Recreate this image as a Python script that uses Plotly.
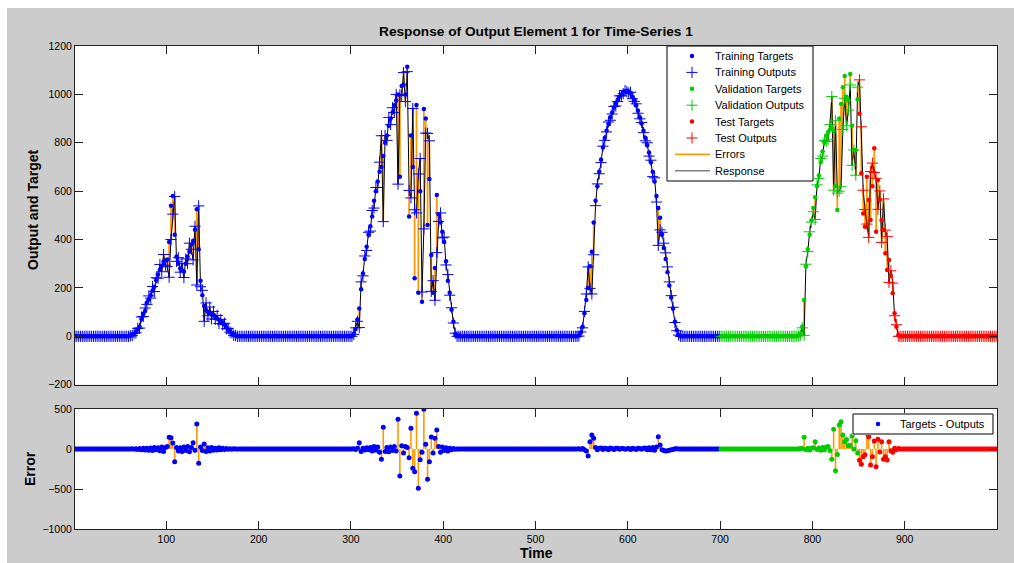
import plotly.graph_objects as go

# ---------------- data ----------------
# samples are shown every 2 time steps: t = 1, 3, 5, ..., 999
TIME_FIRST, TIME_LAST, TIME_STEP = 1, 999, 2
VAL_START = 701     # first validation time step
TEST_START = 851    # first test time step

# each bump: first time step, target values, error values (targets - outputs); zero elsewhere
B1_T0 = 61
B1_TARGET = [2, 5, 10, 18, 28, 40, 72, 92, 105, 140, 152, 170, 188, 205, 232, 255, 275, 292, 308, 312,
             318, 390, 540, 580, 420, 330, 300, 280, 272, 268, 300, 330, 350, 380, 395, 440, 525, 360, 230, 170,
             125, 108, 100, 96, 92, 88, 80, 74, 68, 62, 58, 48, 36, 28, 20, 12, 6, 3, 0]
B1_ERROR = [0, 2, -3, 4, -5, 6, -8, 10, -12, 8, -15, 12, -18, 20, -10, 15, -22, 25, -30, 18,
            30, 146, 140, 75, -158, 20, -25, 15, -30, 25, -20, 30, -35, 20, 79, -15, 313, -179, 25, -20,
            63, -30, 15, -25, 20, -15, 10, -12, 15, -8, 10, -6, 5, -4, 3, -2, 2, 0, 0]

B2_T0 = 301
B2_TARGET = [0, 10, 30, 70, 115, 195, 260, 320, 370, 420, 455, 495, 560, 600, 640, 680, 700, 745, 800, 830,
             870, 900, 925, 955, 975, 1000, 660, 1035, 1040, 1000, 1114, 495, 830, 700, 240, 956, 180, 600, 143, 940,
             900, 460, 650, 336, 180, 282, 584, 505, 470, 432, 390, 310, 230, 180, 110, 60, 10, 0]
B2_ERROR = [0, 2, -5, 8, 79, -30, 10, -12, 15, -10, 20, -25, 30, -15, 25, -40, -129, 271, -30, 20,
            -35, 25, -20, 30, -25, 371, -338, 40, -50, 30, 20, -108, 258, -242, -283, 446, -491, -135, -40, 496,
            60, -379, -158, 150, -50, 133, 238, 30, -40, 25, -20, 15, -25, 10, -8, 5, -3, 0]

B3_T0 = 545
B3_TARGET = [0, 3, 15, 40, 95, 150, 200, 290, 350, 470, 560, 620, 680, 730, 780, 820, 850, 878, 905, 925,
             945, 962, 978, 990, 1000, 1008, 1013, 1015, 1012, 1004, 990, 975, 955, 932, 905, 880, 850, 820, 790, 760,
             720, 680, 640, 580, 530, 490, 420, 365, 320, 265, 210, 160, 115, 60, 25, 5, 0]
B3_ERROR = [0, 2, -3, 5, -8, -25, -87, 92, 175, 133, 20, -10, 8, 12, -6, 10, 5, -8, 12, 6,
            -5, 10, 8, -4, 6, 5, -3, 4, 6, -5, 8, 4, -6, 10, 6, -4, 8, 12, -10, 15,
            -8, 20, -15, 25, 154, 50, -10, -20, -25, -22, -15, -8, -5, 3, 2, 0, 0]

B4_T0 = 783
B4_TARGET = [0, 2, 10, 40, 150, 290, 360, 420, 480, 530, 575, 620, 665, 720, 765, 800, 830, 845, 855, 862,
             850, 620, 522, 900, 960, 1030, 1076, 990, 975, 1084, 870, 770, 770, 980, 920, 674, 508, 453, 660, 563,
             481, 620, 777, 432, 646, 563, 480, 439, 343, 274, 315, 250, 178, 95, 40, 5, 0, 0]
B4_ERROR = [0, 0, 5, 5, 146, -8, 10, -12, 8, 15, 92, -6, 12, -15, 20, -10, 25, 30, -20, -129,
            246, -271, -70, 300, 342, 175, 92, 120, 40, 45, 163, 0, 104, -50, -140, -192, -96, -71, 196, 154,
            -200, -96, 100, -221, 121, -38, 92, -129, -96, -138, 92, -21, -42, 10, -8, 5, 0, 0]

XTICKS = [100, 200, 300, 400, 500, 600, 700, 800, 900]
YTICKS_TOP = [-200, 0, 200, 400, 600, 800, 1000, 1200]
YTICKS_BOT = [-1000, -500, 0, 500]

TITLE = "Response of Output Element 1 for Time-Series 1"
SET_NAMES = ["Training", "Validation", "Test"]
SET_COLORS = ["#0000ff", "#00cc00", "#ff0000"]

# ---------------- assemble series ----------------
time = list(range(TIME_FIRST, TIME_LAST + 1, TIME_STEP))
n = len(time)
targets = [0] * n
errors = [0] * n
for t0, tv, ev in [(B1_T0, B1_TARGET, B1_ERROR), (B2_T0, B2_TARGET, B2_ERROR),
                   (B3_T0, B3_TARGET, B3_ERROR), (B4_T0, B4_TARGET, B4_ERROR)]:
    i0 = (t0 - TIME_FIRST) // TIME_STEP
    targets[i0:i0 + len(tv)] = tv
    errors[i0:i0 + len(ev)] = ev
outputs = [a - e for a, e in zip(targets, errors)]

def subset(lo, hi):
    idx = [i for i, t in enumerate(time) if lo <= t < hi]
    return ([time[i] for i in idx], [targets[i] for i in idx],
            [outputs[i] for i in idx], [errors[i] for i in idx])

bounds = [(TIME_FIRST, VAL_START), (VAL_START, TEST_START), (TEST_START, TIME_LAST + 1)]
sets = [(nm, col, subset(lo, hi)) for nm, col, (lo, hi) in zip(SET_NAMES, SET_COLORS, bounds)]

FONT = "Liberation Sans, Arial, Helvetica, sans-serif"
ORANGE = "#ff9900"
AX = "#222222"
RESP_LEGEND = "#808080"

fig = go.Figure()

# error segments in the top plot (target -> output)
ex, ey = [], []
for t, a, o in zip(time, targets, outputs):
    ex += [t, t, None]
    ey += [a, o, None]
fig.add_trace(go.Scatter(x=ex, y=ey, mode="lines", line=dict(color=ORANGE, width=1.8),
                         xaxis="x", yaxis="y", hoverinfo="skip"))
fig.add_trace(go.Scatter(x=time, y=outputs, mode="lines", line=dict(color="#000000", width=1),
                         xaxis="x", yaxis="y"))

for name, col, (st, sa, so, se) in sets:
    fig.add_trace(go.Scatter(x=st, y=sa, mode="markers", name=f"{name} Targets",
                             marker=dict(symbol="circle", size=4.5, color=col, line=dict(width=0)),
                             xaxis="x", yaxis="y"))
    fig.add_trace(go.Scatter(x=st, y=so, mode="markers", name=f"{name} Outputs",
                             marker=dict(symbol="cross-thin", size=8, color=col, line=dict(width=1, color=col)),
                             xaxis="x", yaxis="y"))

# bottom plot: error stems and dots
sx, sy = [], []
for t, e in zip(time, errors):
    sx += [t, t, None]
    sy += [0, e, None]
fig.add_trace(go.Scatter(x=sx, y=sy, mode="lines", line=dict(color=ORANGE, width=1.6),
                         xaxis="x2", yaxis="y2", hoverinfo="skip"))
for name, col, (st, sa, so, se) in sets:
    fig.add_trace(go.Scatter(x=st, y=se, mode="markers", name="Targets - Outputs",
                             marker=dict(symbol="circle", size=5, color=col, line=dict(width=0)),
                             xaxis="x2", yaxis="y2"))

# ---------------- layout helpers ----------------
L, R, T, B = 75, 17, 46, 34
W, H = 1014, 563
PW, PH = W - L - R, H - T - B

def px_x(px):
    return (px - L) / PW

def px_y(py):
    return (H - B - py) / PH

# ---------------- legends drawn in pixel-unit overlay axes ----------------
LEG1 = dict(l=667, t=46, r=813, b=181)
LEG2 = dict(l=853, t=414, r=993, b=434)
annotations = []

def legend_box(box, xa, ya):
    fig.add_trace(go.Scatter(x=[box["l"], box["r"], box["r"], box["l"], box["l"]],
                             y=[box["t"], box["t"], box["b"], box["b"], box["t"]],
                             mode="lines", fill="toself", fillcolor="#ffffff",
                             line=dict(color="#000000", width=1), xaxis=xa, yaxis=ya, hoverinfo="skip"))

legend_box(LEG1, "x3", "y3")
row_y = [56 + 16.4 * i for i in range(8)]
labels1 = []
r = 0
for name, col in zip(SET_NAMES, SET_COLORS):
    fig.add_trace(go.Scatter(x=[692], y=[row_y[r]], mode="markers", xaxis="x3", yaxis="y3",
                             marker=dict(symbol="circle", size=4.5, color=col, line=dict(width=0))))
    fig.add_trace(go.Scatter(x=[692], y=[row_y[r + 1]], mode="markers", xaxis="x3", yaxis="y3",
                             marker=dict(symbol="cross-thin", size=8, color=col, line=dict(width=1, color=col))))
    labels1 += [f"{name} Targets", f"{name} Outputs"]
    r += 2
fig.add_trace(go.Scatter(x=[675, 710], y=[row_y[6]] * 2, mode="lines", xaxis="x3", yaxis="y3",
                         line=dict(color=ORANGE, width=1.8)))
fig.add_trace(go.Scatter(x=[675, 710], y=[row_y[7]] * 2, mode="lines", xaxis="x3", yaxis="y3",
                         line=dict(color=RESP_LEGEND, width=1.5)))
labels1 += ["Errors", "Response"]
for i, lab in enumerate(labels1):
    annotations.append(dict(text=lab, xref="x3", yref="y3", x=713, y=row_y[i], xanchor="left",
                            yanchor="middle", showarrow=False, font=dict(family=FONT, size=11, color="#000")))

legend_box(LEG2, "x4", "y4")
fig.add_trace(go.Scatter(x=[878], y=[424], mode="markers", xaxis="x4", yaxis="y4",
                         marker=dict(symbol="circle", size=4.5, color=SET_COLORS[0], line=dict(width=0))))
annotations.append(dict(text="Targets - Outputs", xref="x4", yref="y4", x=898, y=424, xanchor="left",
                        yanchor="middle", showarrow=False, font=dict(family=FONT, size=11, color="#000")))

annotations += [
    dict(text=f"<b>{TITLE}</b>", xref="paper", yref="paper", x=0.5, y=px_y(31), xanchor="center",
         yanchor="middle", showarrow=False, font=dict(family=FONT, size=13.7, color="#000")),
    dict(text="<b>Output and Target</b>", xref="paper", yref="paper", x=px_x(33), y=px_y(210),
         xanchor="center", yanchor="middle", textangle=-90, showarrow=False,
         font=dict(family=FONT, size=14, color="#000")),
    dict(text="<b>Error</b>", xref="paper", yref="paper", x=px_x(30), y=px_y(469),
         xanchor="center", yanchor="middle", textangle=-90, showarrow=False,
         font=dict(family=FONT, size=14, color="#000")),
    dict(text="<b>Time</b>", xref="paper", yref="paper", x=0.5, y=px_y(553),
         xanchor="center", yanchor="middle", showarrow=False,
         font=dict(family=FONT, size=14, color="#000")),
]

axis_common = dict(ticks="inside", ticklen=8, tickwidth=1, tickcolor=AX, showline=True, linecolor=AX,
                   linewidth=1, mirror="ticks", showgrid=False, zeroline=False,
                   tickfont=dict(family=FONT, size=10.5, color="#000"))
hidden = dict(visible=False, showgrid=False, zeroline=False, fixedrange=True)

fig.update_layout(
    width=W, height=H,
    margin=dict(l=L, r=R, t=T, b=B),
    paper_bgcolor="#cccccc", plot_bgcolor="#ffffff",
    font=dict(family=FONT, size=10.5, color="#000"),
    showlegend=False,
    hovermode=False,
    xaxis=dict(domain=[0, 1], range=[1, 1000], anchor="y", tickvals=XTICKS, showticklabels=False, **axis_common),
    yaxis=dict(domain=[px_y(384.7), 1], range=[-200, 1200], anchor="x", tickvals=YTICKS_TOP, **axis_common),
    xaxis2=dict(domain=[0, 1], range=[1, 1000], anchor="y2", tickvals=XTICKS, showticklabels=True, **axis_common),
    yaxis2=dict(domain=[0, px_y(409)], range=[-1000, 500], anchor="x2", tickvals=YTICKS_BOT, **axis_common),
    xaxis3=dict(domain=[px_x(666), px_x(814)], range=[666, 814], anchor="y3", **hidden),
    yaxis3=dict(domain=[px_y(182), 1], range=[182, 46], anchor="x3", **hidden),
    xaxis4=dict(domain=[px_x(852), px_x(994)], range=[852, 994], anchor="y4", **hidden),
    yaxis4=dict(domain=[px_y(435), px_y(413)], range=[435, 413], anchor="x4", **hidden),
    shapes=[
        dict(type="rect", xref="paper", yref="paper", x0=px_x(0), x1=px_x(7), y0=px_y(H), y1=px_y(0),
             fillcolor="#ffffff", line=dict(width=0), layer="below"),
        dict(type="rect", xref="paper", yref="paper", x0=px_x(0), x1=px_x(W), y0=px_y(8), y1=px_y(0),
             fillcolor="#ffffff", line=dict(width=0), layer="below"),
    ],
    annotations=annotations,
)

fig.write_html("out.html")
